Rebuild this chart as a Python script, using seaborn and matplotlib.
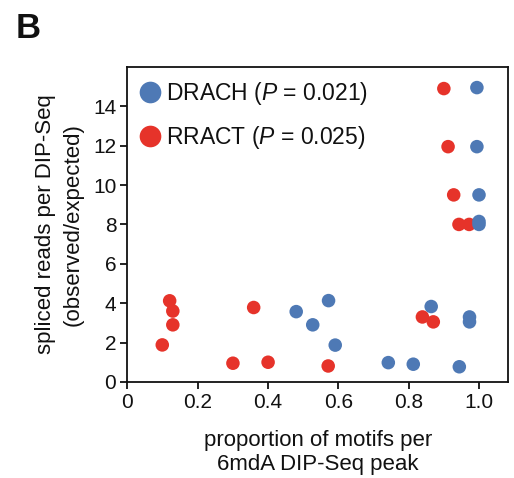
import pandas as pd
import matplotlib
matplotlib.use("Agg")
import matplotlib.pyplot as plt
import seaborn as sns

# values
rract_x = [0.120, 0.129, 0.129, 0.099, 0.359, 0.300, 0.400, 0.571,
           0.839, 0.870, 0.900, 0.912, 0.928, 0.943, 0.972]
rract_y = [4.12, 3.60, 2.90, 1.88, 3.78, 0.95, 1.00, 0.81,
           3.30, 3.05, 14.9, 11.95, 9.50, 8.00, 8.00]
drach_x = [0.480, 0.527, 0.572, 0.591, 0.742, 0.813, 0.864, 0.973,
           0.973, 0.944, 0.994, 0.994, 1.000, 1.000, 1.000]
drach_y = [3.57, 2.90, 4.13, 1.87, 0.98, 0.90, 3.83, 3.30,
           3.05, 0.77, 14.95, 11.95, 9.50, 8.00, 8.15]

labels = ["DRACH ($\\mathit{P}$ = 0.021)", "RRACT ($\\mathit{P}$ = 0.025)"]
colors = ["#4e79b5", "#e6332a"]

# red first so the blue dots sit on top
df = pd.concat([
    pd.DataFrame({"prop": rract_x, "ratio": rract_y, "motif": labels[1]}),
    pd.DataFrame({"prop": drach_x, "ratio": drach_y, "motif": labels[0]}),
])

sns.set_style("ticks")
plt.rcParams["font.family"] = ["Liberation Sans", "DejaVu Sans"]
plt.rcParams["mathtext.fontset"] = "custom"
plt.rcParams["mathtext.it"] = "Liberation Sans:italic"
plt.rcParams["mathtext.rm"] = "Liberation Sans"
ink = "#111111"

fig, ax = plt.subplots(figsize=(5.14, 4.78), dpi=100)
fig.subplots_adjust(left=0.248, right=0.988, top=0.860, bottom=0.201)

sns.scatterplot(data=df, x="prop", y="ratio", hue="motif", hue_order=labels,
                palette=colors, s=95, linewidth=0, ax=ax)

ax.set_xlim(0, 1.082)
ax.set_ylim(0, 16.0)
ax.set_xticks([0, 0.2, 0.4, 0.6, 0.8, 1.0])
ax.set_xticklabels(["0", "0.2", "0.4", "0.6", "0.8", "1.0"])
ax.set_yticks(range(0, 16, 2))
ax.tick_params(labelsize=15, length=5, width=1.3, color=ink, labelcolor=ink, pad=3)
for sp in ax.spines.values():
    sp.set_linewidth(1.3)
    sp.set_color(ink)

ax.set_xlabel("proportion of motifs per\n6mdA DIP-Seq peak", fontsize=16,
              color=ink, labelpad=13)
ax.set_ylabel("spliced reads per DIP-Seq\n(observed/expected)", fontsize=16,
              color=ink, labelpad=7, linespacing=1.4)

leg = ax.legend(loc="upper left", bbox_to_anchor=(-0.02, 1.01), frameon=False,
                fontsize=16.5, markerscale=1.6, handlelength=1.2,
                handletextpad=0.1, labelspacing=0.75, borderaxespad=0.3)
for t in leg.get_texts():
    t.set_color(ink)

fig.text(0.03, 0.975, "B", fontsize=25, fontweight="bold", va="top", ha="left",
         color=ink)

fig.savefig("out.png", dpi=100)
